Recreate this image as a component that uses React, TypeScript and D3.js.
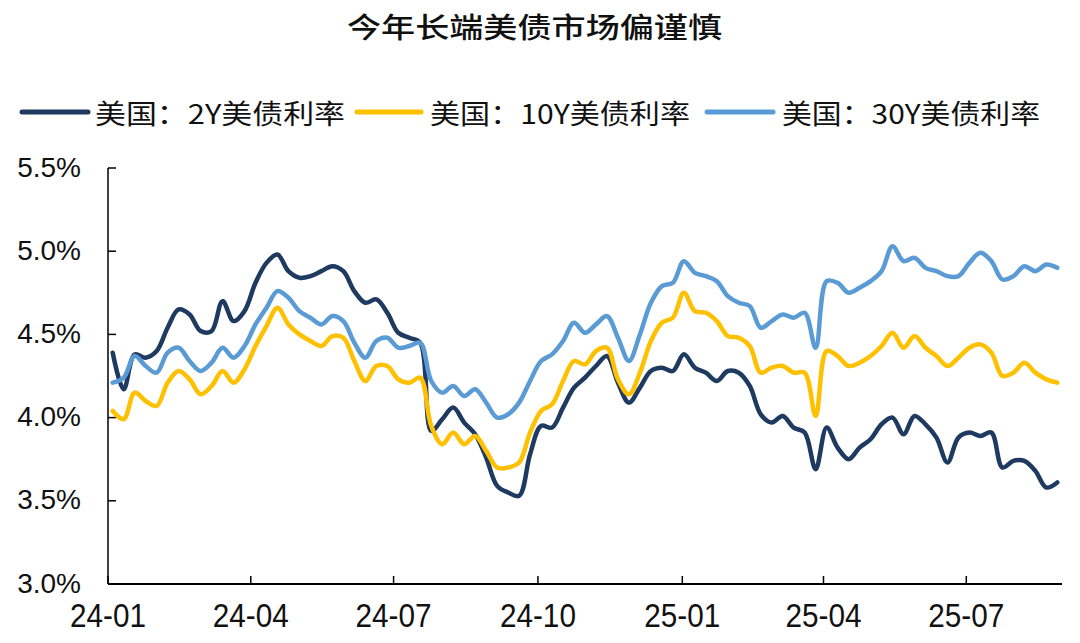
import React from "react";
import * as d3 from "d3";

const title = "今年长端美债市场偏谨慎";
const seriesNames = ["美国：2Y美债利率", "美国：10Y美债利率", "美国：30Y美债利率"];
const seriesColors = ["#1F3A60", "#FFC000", "#5B9BD5"];

// weekly observations starting 2024-01-04
const startDate = new Date(Date.UTC(2024, 0, 4));
const nWeeks = 87;
const dates = d3.range(nWeeks).map((i) => d3.utcDay.offset(startDate, 7 * i));

const y2 = [4.39,4.17,4.38,4.36,4.40,4.54,4.65,4.62,4.52,4.52,
4.70,4.58,4.64,4.81,4.93,4.98,4.88,4.84,4.85,4.88,
4.91,4.88,4.76,4.69,4.71,4.63,4.51,4.48,4.45,3.92,
3.99,4.06,3.97,3.90,3.76,3.59,3.55,3.53,3.78,3.95,
3.94,4.06,4.18,4.24,4.31,4.37,4.21,4.09,4.18,4.28,
4.30,4.28,4.38,4.30,4.27,4.22,4.28,4.27,4.19,4.02,
3.97,4.01,3.94,3.91,3.69,3.94,3.82,3.75,3.82,3.87,
3.96,4.00,3.90,4.01,3.96,3.88,3.73,3.88,3.91,3.89,
3.91,3.70,3.74,3.74,3.68,3.58,3.61];

const y10 = [4.04,3.99,4.15,4.10,4.07,4.21,4.28,4.23,4.14,4.19,
4.28,4.21,4.29,4.43,4.55,4.66,4.56,4.50,4.46,4.43,
4.49,4.48,4.34,4.22,4.31,4.31,4.23,4.21,4.24,3.95,
3.84,3.91,3.84,3.89,3.80,3.70,3.70,3.73,3.91,4.04,
4.08,4.22,4.34,4.32,4.40,4.42,4.23,4.14,4.27,4.46,
4.57,4.60,4.75,4.64,4.63,4.58,4.49,4.48,4.43,4.27,
4.30,4.31,4.27,4.27,4.01,4.40,4.37,4.31,4.33,4.37,
4.43,4.51,4.42,4.49,4.42,4.37,4.31,4.36,4.42,4.44,
4.39,4.25,4.27,4.33,4.27,4.23,4.21];

const y30 = [4.21,4.24,4.37,4.31,4.27,4.39,4.42,4.34,4.28,4.33,
4.42,4.36,4.43,4.56,4.66,4.76,4.72,4.64,4.60,4.56,
4.61,4.58,4.45,4.36,4.46,4.48,4.42,4.43,4.45,4.22,
4.15,4.19,4.13,4.17,4.09,4.00,4.02,4.09,4.22,4.34,
4.38,4.46,4.57,4.51,4.56,4.61,4.48,4.34,4.50,4.69,
4.79,4.81,4.94,4.87,4.85,4.82,4.73,4.69,4.67,4.54,
4.58,4.62,4.60,4.63,4.42,4.82,4.81,4.75,4.78,4.82,
4.88,5.03,4.94,4.96,4.90,4.88,4.85,4.85,4.93,4.99,
4.94,4.83,4.85,4.91,4.88,4.92,4.90];

const yTicks = [3.0, 3.5, 4.0, 4.5, 5.0, 5.5];
const xTickDates = ["2024-01-01", "2024-04-01", "2024-07-01", "2024-10-01", "2025-01-01", "2025-04-01", "2025-07-01"];

const W = 1080, H = 643;
const plot = { left: 108, right: 1062, top: 168, bottom: 584 };

export default function App() {
  const x = d3.scaleUtc()
    .domain([new Date(Date.UTC(2024, 0, 1)), new Date(Date.UTC(2025, 7, 31))])
    .range([plot.left, plot.right]);
  const y = d3.scaleLinear().domain([3.0, 5.5]).range([plot.bottom, plot.top]);
  const series = [y2, y10, y30];
  const line = d3.line<number>()
    .x((_, i) => x(dates[i]))
    .y((d) => y(d))
    .curve(d3.curveCatmullRom.alpha(0.5));
  const fmtX = d3.utcFormat("%y-%m");

  const legend = [
    { lx1: 22, lx2: 88, tx: 95, tw: 250 },
    { lx1: 357, lx2: 421, tx: 430, tw: 260 },
    { lx1: 707, lx2: 773, tx: 782, tw: 258 },
  ];

  return (
    <svg width={W} height={H} style={{ position: "absolute", left: 0, top: 0, background: "#fff" }}>
      <rect width={W} height={H} fill="#fff" />
      <text x={347} y={26} dominantBaseline="central" fontFamily="'Noto Sans CJK SC'" fontSize={28} fontWeight={500}
        textLength={375} lengthAdjust="spacingAndGlyphs" fill="#111">{title}</text>

      {legend.map((l, i) => (
        <g key={i}>
          <line x1={l.lx1} x2={l.lx2} y1={112} y2={112} stroke={seriesColors[i]} strokeWidth={5} strokeLinecap="round" />
          <text x={l.tx} y={112} dominantBaseline="central" fontFamily="'Noto Sans CJK SC'" fontSize={27}
            textLength={l.tw} lengthAdjust="spacingAndGlyphs" fill="#111">{seriesNames[i]}</text>
        </g>
      ))}

      {/* y axis */}
      <line x1={plot.left} x2={plot.left} y1={plot.top} y2={plot.bottom} stroke="#000" strokeWidth={1.5} />
      {yTicks.map((t) => (
        <g key={t}>
          <line x1={plot.left} x2={plot.left + 8} y1={y(t)} y2={y(t)} stroke="#000" strokeWidth={1.5} />
          <text x={81} y={y(t) - 1} dominantBaseline="central" textAnchor="end" fontFamily="'Liberation Sans', Arial, sans-serif"
            fontSize={28} fill="#111">{t.toFixed(1)}%</text>
        </g>
      ))}

      {/* x axis */}
      <line x1={plot.left} x2={plot.right} y1={plot.bottom} y2={plot.bottom} stroke="#000" strokeWidth={2} />
      {xTickDates.map((s) => {
        const d = new Date(s + "T00:00:00Z");
        const px = x(d);
        return (
          <g key={s}>
            <line x1={px} x2={px} y1={plot.bottom} y2={plot.bottom - 8} stroke="#000" strokeWidth={1.5} />
            <text x={px} y={627} textAnchor="middle" fontFamily="'Liberation Sans', Arial, sans-serif" fontSize={34}
              textLength={76} lengthAdjust="spacingAndGlyphs" fill="#111">{fmtX(d)}</text>
          </g>
        );
      })}

      {series.map((s, i) => (
        <path key={i} d={line(s) || ""} fill="none" stroke={seriesColors[i]} strokeWidth={4.5}
          strokeLinejoin="round" strokeLinecap="round" />
      ))}
    </svg>
  );
}
